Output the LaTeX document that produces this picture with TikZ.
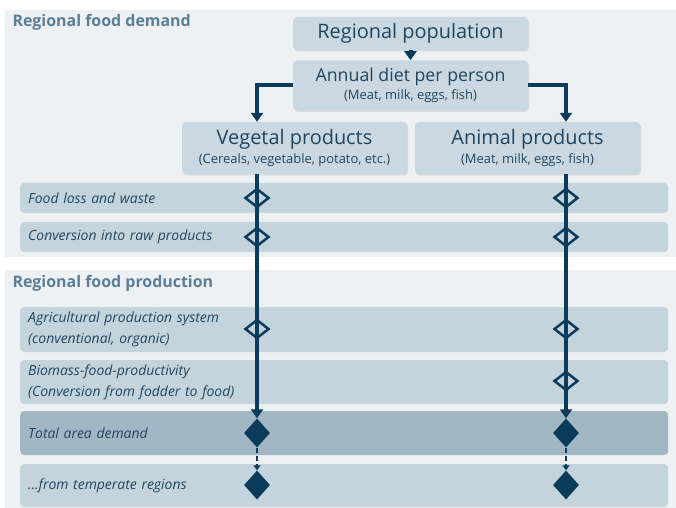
\documentclass[tikz,border=0pt]{standalone}
\usepackage{fontspec}
\setmainfont{Open Sans}
\usetikzlibrary{arrows.meta, positioning, shapes.geometric, shadows}

\definecolor{navy}{HTML}{0B3B5A}
\definecolor{ink}{HTML}{22455E}
\definecolor{headc}{HTML}{5B7E96}
\definecolor{panelbg}{HTML}{EDF1F4}
\definecolor{boxfill}{HTML}{C9D8E1}
\definecolor{stripefill}{HTML}{C4D4DD}
\definecolor{darkfill}{HTML}{A2B7C4}

\begin{document}
\begin{tikzpicture}[
  x=1bp, y=-1bp,
  box/.style={fill=boxfill, rounded corners=4bp, align=center, text=ink, inner sep=2bp,
    drop shadow={shadow xshift=1bp, shadow yshift=-1.5bp, opacity=0.2}},
  stripe/.style={fill=stripefill, rounded corners=4bp, anchor=west, text=ink,
    text width=632bp, align=left, inner xsep=8bp, font=\itshape\fontsize{14}{21}\selectfont},
  head/.style={anchor=west, text=headc, font=\bfseries\fontsize{16}{18}\selectfont},
  ring/.style={diamond, draw=navy, line width=2.5bp, minimum width=24bp, minimum height=19bp, inner sep=0pt},
  fulldia/.style={diamond, fill=navy, minimum width=26bp, minimum height=29bp, inner sep=0pt},
  flow/.style={-{Triangle[length=9bp, width=12bp]}, line width=4bp, navy},
  dashflow/.style={-{Triangle[length=5bp, width=7bp]}, line width=2.5bp, navy, dash pattern=on 5bp off 3bp}
]
\useasboundingbox[fill=white] (0,0) rectangle (676,508);

% panels
\fill[panelbg] (5,10) rectangle (676,257);
\fill[panelbg] (5,270) rectangle (676,508);
\node[head] (demand) at (9,22) {Regional food demand};
\node[head] (production) at (9,283) {Regional food production};

% boxes
\node[box, minimum width=235bp, minimum height=33bp, font=\fontsize{20}{22}\selectfont] (pop) at (410.5,33.5) {Regional population};
\node[box, minimum width=235bp, minimum height=50bp, below=10bp of pop] (diet)
  {{\fontsize{17.8}{19}\selectfont Annual diet per person}\\[2bp]{\fontsize{13}{15}\selectfont (Meat, milk, eggs, fish)}};
\node[box, minimum width=225bp, minimum height=52bp] (veg) at (294.5,148)
  {{\fontsize{20}{21}\selectfont Vegetal products}\\[3bp]{\fontsize{13}{15}\selectfont (Cereals, vegetable, potato, etc.)}};
\node[box, minimum width=225bp, minimum height=52bp] (ani) at (527.5,148)
  {{\fontsize{20}{21}\selectfont Animal products}\\[3bp]{\fontsize{13}{15}\selectfont (Meat, milk, eggs, fish)}};

% stripes
\node[stripe, minimum height=30bp] (loss) at (20,198) {Food loss and waste};
\node[stripe, minimum height=30bp] (conv) at (20,237) {Conversion into raw products};
\node[stripe, minimum height=45bp] (agri) at (20,329.5) {Agricultural production system\\(conventional, organic)};
\node[stripe, minimum height=44bp] (bio) at (20,382) {Biomass-food-productivity\\(Conversion from fodder to food)};
\node[stripe, minimum height=44bp, fill=darkfill] (total) at (20,433) {Total area demand};
\node[stripe, minimum height=43bp] (temp) at (20,485.5) {...from temperate regions};

% markers
\node[ring] (lossV) at (257,198) {};
\node[ring] (lossA) at (566,198) {};
\node[ring] (convV) at (257,237) {};
\node[ring] (convA) at (566,237) {};
\node[ring] (agriV) at (257,329) {};
\node[ring] (agriA) at (566,329) {};
\node[ring] (bioA) at (566,381) {};
\node[fulldia] (totV) at (257,433) {};
\node[fulldia] (totA) at (566,433) {};
\node[fulldia] (tempV) at (257,485) {};
\node[fulldia] (tempA) at (566,485) {};

% connectors
\draw[flow] (pop) -- (diet);
\draw[flow] (diet.west) -| (veg.north -| lossV);
\draw[flow] (diet.east) -| (ani.north -| lossA);
\draw[flow] (veg.south -| lossV) -- (totV.north);
\draw[flow] (ani.south -| lossA) -- (totA.north);
\draw[dashflow] (totV.south) -- (tempV.north);
\draw[dashflow] (totA.south) -- (tempA.north);
\end{tikzpicture}
\end{document}
